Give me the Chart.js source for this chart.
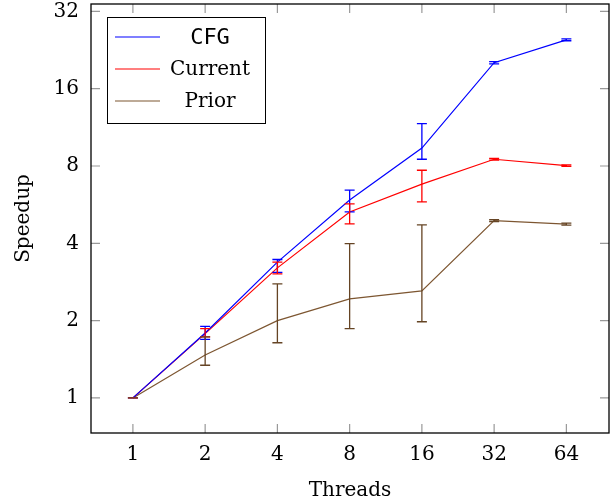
<!DOCTYPE html>
<html>
<head>
<meta charset="utf-8">
<script src="https://cdn.jsdelivr.net/npm/chart.js@4/dist/chart.umd.min.js"></script>
<style>
  html, body { margin: 0; padding: 0; background: #fff; }
  #wrap { width: 611px; height: 503px; }
</style>
</head>
<body>
<div id="wrap"><canvas id="speedupChart"></canvas></div>
<script>
// <=============================== data ===============================>
const threads = ['1', '2', '4', '8', '16', '32', '64'];
const yTicks = [1, 2, 4, 8, 16, 32];
const yMin = 0.73, yMax = 34.2;

const cfg = [1, 1.79, 3.38, 5.9, 9.4, 20.2, 24.8];
const cfgHi = [1, 1.90, 3.46, 6.45, 11.7, 20.4, 25.0];
const cfgLo = [1, 1.69, 3.08, 5.3, 8.5, 20.0, 24.6];

const current = [1, 1.78, 3.21, 5.3, 6.8, 8.5, 8.03];
const currentHi = [1, 1.86, 3.38, 5.7, 7.7, 8.56, 8.08];
const currentLo = [1, 1.73, 3.04, 4.76, 5.8, 8.44, 7.98];

const prior = [1, 1.47, 2.0, 2.43, 2.61, 4.9, 4.75];
const priorHi = [1, 1.73, 2.78, 3.99, 4.72, 4.94, 4.79];
const priorLo = [1, 1.34, 1.64, 1.86, 1.98, 4.86, 4.71];

const serif = '"DejaVu Serif", "Liberation Serif", serif';
const mono = '"DejaVu Sans Mono", "Liberation Mono", monospace';

function toPoints(arr) {
    return arr.map((v, i) => ({ x: i, y: v }));
}

// <=============================== plugins ===============================>
// 오차 막대
const errorBars = {
    id: 'errorBars',
    afterDatasetsDraw(chart) {
        const ctx = chart.ctx;
        const xs = chart.scales.x, ys = chart.scales.y;
        chart.data.datasets.forEach(ds => {
            ctx.save();
            ctx.strokeStyle = ds.errColor;
            ctx.lineWidth = 1.3;
            ds.hi.forEach((hi, i) => {
                const px = xs.getPixelForValue(i);
                const top = ys.getPixelForValue(hi);
                const bot = ys.getPixelForValue(ds.lo[i]);
                ctx.beginPath();
                ctx.moveTo(px, top); ctx.lineTo(px, bot);
                ctx.moveTo(px - 5, top); ctx.lineTo(px + 5, top);
                ctx.moveTo(px - 5, bot); ctx.lineTo(px + 5, bot);
                ctx.stroke();
            });
            ctx.restore();
        });
    }
};

// 테두리 + 안쪽 눈금 + 범례
const frame = {
    id: 'frame',
    beforeDatasetsDraw(chart) {
        const ctx = chart.ctx;
        const a = chart.chartArea;
        const xs = chart.scales.x, ys = chart.scales.y;
        ctx.save();
        ctx.strokeStyle = '#999';
        ctx.lineWidth = 1.2;
        ctx.beginPath();
        xs.ticks.forEach(t => {
            const px = xs.getPixelForValue(t.value);
            ctx.moveTo(px, a.bottom); ctx.lineTo(px, a.bottom - 9);
            ctx.moveTo(px, a.top); ctx.lineTo(px, a.top + 9);
        });
        ys.ticks.forEach(t => {
            const py = ys.getPixelForValue(t.value);
            ctx.moveTo(a.left, py); ctx.lineTo(a.left + 9, py);
            ctx.moveTo(a.right, py); ctx.lineTo(a.right - 9, py);
        });
        ctx.stroke();
        ctx.restore();
    },
    afterDraw(chart) {
        const ctx = chart.ctx;
        const a = chart.chartArea;
        ctx.save();
        ctx.strokeStyle = '#000';
        ctx.lineWidth = 1.3;
        ctx.strokeRect(a.left, a.top, a.right - a.left, a.bottom - a.top);

        const lx = 107, ly = 17, lw = 158, lh = 106;
        ctx.fillStyle = '#fff';
        ctx.fillRect(lx, ly, lw, lh);
        ctx.lineWidth = 1;
        ctx.strokeStyle = '#000';
        ctx.strokeRect(lx + 0.5, ly + 0.5, lw, lh);
        chart.data.datasets.forEach((ds, i) => {
            const y = ly + 20 + i * 32;
            ctx.strokeStyle = ds.borderColor;
            ctx.lineWidth = 1.2;
            ctx.beginPath();
            ctx.moveTo(115, y); ctx.lineTo(160, y);
            ctx.stroke();
            ctx.fillStyle = '#000';
            ctx.textAlign = 'center';
            ctx.textBaseline = 'middle';
            ctx.font = ds.mono ? '22px ' + mono : '20px ' + serif;
            ctx.fillText(ds.label, 210, y + 1);
        });
        ctx.restore();
    }
};

// <=============================== chart ===============================>
const ctx = document.getElementById('speedupChart').getContext('2d');
window.speedupChart = new Chart(ctx, {
    type: 'line',
    data: {
        datasets: [
            { label: 'CFG', data: toPoints(cfg), hi: cfgHi, lo: cfgLo, mono: true,
              borderColor: '#0000ff', errColor: '#0000ff' },
            { label: 'Current', data: toPoints(current), hi: currentHi, lo: currentLo,
              borderColor: '#ff0000', errColor: '#ff0000' },
            { label: 'Prior', data: toPoints(prior), hi: priorHi, lo: priorLo,
              borderColor: '#7d5631', errColor: '#654424' }
        ]
    },
    options: {
        animation: false,
        responsive: true,
        maintainAspectRatio: false,
        layout: { padding: { top: 4, right: 2, left: 0, bottom: 0 } },
        elements: {
            line: { borderWidth: 1.2, tension: 0, fill: false },
            point: { radius: 0 }
        },
        plugins: {
            legend: { display: false },
            tooltip: { enabled: false }
        },
        scales: {
            x: {
                type: 'linear',
                min: -0.58,
                max: 6.59,
                afterBuildTicks: s => { s.ticks = threads.map((t, i) => ({ value: i })); },
                afterFit: s => { s.height = 70; s.paddingLeft = 0; s.paddingRight = 0; },
                grid: { display: false, drawTicks: false },
                border: { display: false },
                ticks: {
                    color: '#000',
                    padding: 10,
                    font: { family: serif, size: 20 },
                    callback: v => threads[v]
                },
                title: {
                    display: true,
                    text: 'Threads',
                    color: '#000',
                    padding: { top: 7, bottom: 0 },
                    font: { family: serif, size: 20 }
                }
            },
            y: {
                type: 'logarithmic',
                min: yMin,
                max: yMax,
                // log 눈금 생성 시 min이 0.7로 반올림되므로 다시 지정
                afterBuildTicks: s => {
                    s.ticks = yTicks.map(v => ({ value: v }));
                    s.min = yMin;
                    s.max = yMax;
                },
                afterFit: s => { s.width = 91; s.paddingTop = 0; s.paddingBottom = 0; },
                grid: { display: false, drawTicks: false },
                border: { display: false },
                ticks: {
                    color: '#000',
                    padding: 12,
                    font: { family: serif, size: 20 },
                    callback: v => String(v)
                },
                title: {
                    display: true,
                    text: 'Speedup',
                    color: '#000',
                    padding: { top: 12, bottom: 4 },
                    font: { family: serif, size: 20 }
                }
            }
        }
    },
    plugins: [frame, errorBars]
});
</script>
</body>
</html>
